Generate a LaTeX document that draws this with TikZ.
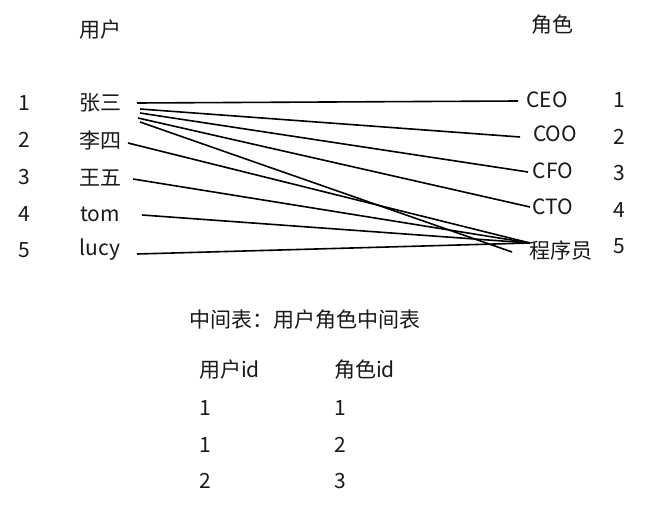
\documentclass[tikz,border=0pt]{standalone}
\usepackage{fontspec}
\setmainfont{Noto Sans CJK SC}
\begin{document}
\begin{tikzpicture}[x=1pt,y=-1pt,
  lbl/.style={inner sep=0pt,anchor=center,font=\fontsize{21}{24}\selectfont,text=black!90},
  link/.style={line width=1.6pt,black}]
\useasboundingbox[fill=white] (0,0) rectangle (653,511);
% headers
\node[lbl] (uh) at (100,30) {用户};
\node[lbl] (rh) at (552,25) {角色};
% left numbers
\node[lbl] (n1) at (24,103) {1};
\node[lbl] (n2) at (24,140) {2};
\node[lbl] (n3) at (24,177) {3};
\node[lbl] (n4) at (24,214) {4};
\node[lbl] (n5) at (24,250) {5};
% users
\node[lbl] (zs) at (100,103) {张三};
\node[lbl] (ls) at (100,140) {李四};
\node[lbl] (ww) at (100,178) {王五};
\node[lbl] (tom) at (100,214) {tom};
\node[lbl] (lucy) at (100,250) {lucy};
% roles
\node[lbl] (ceo) at (547,100) {CEO};
\node[lbl] (coo) at (555,134) {COO};
\node[lbl] (cfo) at (553,171) {CFO};
\node[lbl] (cto) at (553,207) {CTO};
\node[lbl] (cx) at (561,251) {程序员};
% right numbers
\node[lbl] (r1) at (619,100) {1};
\node[lbl] (r2) at (619,137) {2};
\node[lbl] (r3) at (619,173) {3};
\node[lbl] (r4) at (619,210) {4};
\node[lbl] (r5) at (619,246) {5};
% connector end points
\coordinate (zsA) at (137,103);
\coordinate (zsB) at (140,109);
\coordinate (zsC) at (140,113);
\coordinate (zsD) at (138,118);
\coordinate (zsE) at (140,122);
\coordinate (lsA) at (128,143);
\coordinate (wwA) at (133,179);
\coordinate (tomA) at (142,215);
\coordinate (lucyA) at (137,254);
\coordinate (ceoA) at (518,101);
\coordinate (cooA) at (520,137);
\coordinate (cfoA) at (528,172);
\coordinate (ctoA) at (530,207);
\coordinate (cxA) at (530,243);
\coordinate (cxB) at (512,252);
% connectors
\draw[link] (zsA) -- (ceoA);
\draw[link] (zsB) -- (cooA);
\draw[link] (zsC) -- (cfoA);
\draw[link] (zsD) -- (ctoA);
\draw[link] (zsE) -- (cxB);
\draw[link] (lsA) -- (cxA);
\draw[link] (wwA) -- (cxA);
\draw[link] (tomA) -- (cxA);
\draw[link] (lucyA) -- (cxA);
% middle table
\node[lbl,anchor=west] (mt) at (189,320) {中间表：用户角色中间表};
\node[lbl,anchor=west] (uid) at (199,370) {用户id};
\node[lbl,anchor=west] (rid) at (334,370) {角色id};
\node[lbl,anchor=west] (a1) at (199,408) {1};
\node[lbl,anchor=west] (b1) at (334,408) {1};
\node[lbl,anchor=west] (a2) at (199,445) {1};
\node[lbl,anchor=west] (b2) at (334,445) {2};
\node[lbl,anchor=west] (a3) at (199,481) {2};
\node[lbl,anchor=west] (b3) at (334,481) {3};
\end{tikzpicture}
\end{document}
